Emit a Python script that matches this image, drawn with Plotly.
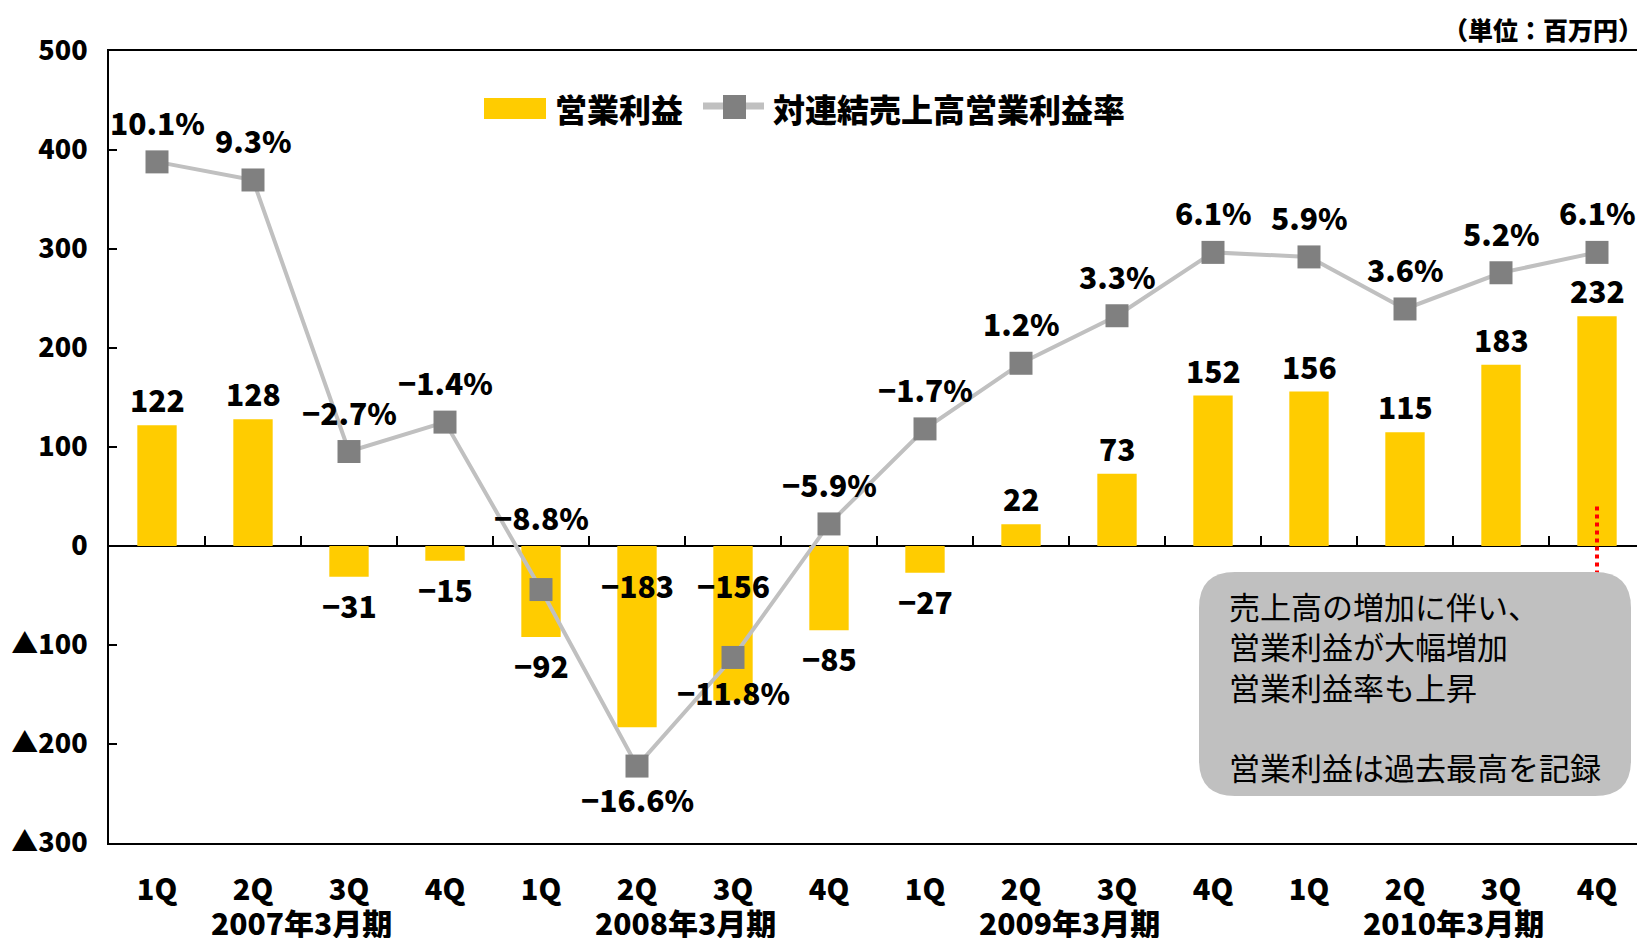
import plotly.graph_objects as go

# ---------------- data ----------------
quarters = ["1Q", "2Q", "3Q", "4Q", "1Q", "2Q", "3Q", "4Q",
            "1Q", "2Q", "3Q", "4Q", "1Q", "2Q", "3Q", "4Q"]
fiscal_years = ["2007年3月期", "2008年3月期", "2009年3月期", "2010年3月期"]
operating_profit = [122, 128, -31, -15, -92, -183, -156, -85,
                    -27, 22, 73, 152, 156, 115, 183, 232]
profit_margin = [10.1, 9.3, -2.7, -1.4, -8.8, -16.6, -11.8, -5.9,
                 -1.7, 1.2, 3.3, 6.1, 5.9, 3.6, 5.2, 6.1]
y_tick_values = [500, 400, 300, 200, 100, 0, -100, -200, -300]
y_tick_labels = ["500", "400", "300", "200", "100", "0", "▲100", "▲200", "▲300"]
bar_name = "営業利益"
line_name = "対連結売上高営業利益率"
unit_label = "（単位：百万円）"
note_lines = ["売上高の増加に伴い、", "営業利益が大幅増加", "営業利益率も上昇", "", "営業利益は過去最高を記録"]

# ---------------- layout helpers ----------------
OFF = 8  # default page body margin
W, H = 1645 - OFF, 938 - OFF
L, R, T, B = 109 - OFF, 0, 51 - OFF, 95
FONT = "Noto Sans CJK JP"
YELLOW = "#FFCC00"
LINE_GRAY = "#C0C0C0"
MARK_GRAY = "#808080"


def px_x(p):
    return (p - OFF - L) / (W - L - R)


def px_y(p):
    return (H - B - (p - OFF)) / (H - T - B)


x = list(range(len(quarters)))

fig = go.Figure()
fig.add_trace(go.Bar(
    x=x, y=operating_profit, name=bar_name, marker=dict(color=YELLOW, line=dict(width=0)),
    width=0.41, showlegend=False, hoverinfo="skip"))
fig.add_trace(go.Scatter(
    x=x, y=profit_margin, name=line_name, yaxis="y2", mode="lines+markers",
    line=dict(color=LINE_GRAY, width=4),
    marker=dict(symbol="square", size=23, color=MARK_GRAY),
    showlegend=False, hoverinfo="skip"))

annotations = []
bold = dict(family=FONT, size=30, color="black", weight=900)

# bar value labels
bar_at_base = {5, 6}
for i, v in enumerate(operating_profit):
    txt = str(v).replace("-", "−")
    if i in bar_at_base:
        annotations.append(dict(x=i, y=0, xref="x", yref="y", text=txt, showarrow=False,
                                yshift=-39, font=bold))
    else:
        annotations.append(dict(x=i, y=v, xref="x", yref="y", text=txt, showarrow=False,
                                yshift=26 if v > 0 else -28, font=bold))

# line value labels
for i, p in enumerate(profit_margin):
    txt = f"{p:.1f}%".replace("-", "−")
    if i == 4:
        annotations.append(dict(x=i, y=0, xref="x", yref="y", text=txt, showarrow=False,
                                yshift=29, font=bold))
    else:
        shift = 40
        if i == 5:
            shift = -33
        elif i == 6:
            shift = -35
        annotations.append(dict(x=i, y=p, xref="x", yref="y2", text=txt, showarrow=False,
                                yshift=shift, font=bold))

# fiscal year group labels
for g, name in enumerate(fiscal_years):
    annotations.append(dict(x=g * 4 + 1.5, y=px_y(922), xref="x", yref="paper", text=name,
                            showarrow=False, yanchor="middle",
                            font=dict(family=FONT, size=30, color="black", weight=900)))

# unit label
annotations.append(dict(x=1.0, y=px_y(29), xref="paper", yref="paper", text=unit_label,
                        showarrow=False, xanchor="right", yanchor="middle",
                        font=dict(family=FONT, size=25, color="black", weight=900)))

# legend texts
annotations.append(dict(x=px_x(553), y=px_y(108), xref="paper", yref="paper", text=bar_name,
                        showarrow=False, xanchor="left", yanchor="middle",
                        font=dict(family=FONT, size=32, color="black", weight=900)))
annotations.append(dict(x=px_x(771), y=px_y(108), xref="paper", yref="paper", text=line_name,
                        showarrow=False, xanchor="left", yanchor="middle",
                        font=dict(family=FONT, size=32, color="black", weight=900)))

# note text
annotations.append(dict(x=px_x(1227), y=px_y(686), xref="paper", yref="paper",
                        text="<br>".join(note_lines), showarrow=False, align="left",
                        xanchor="left", yanchor="middle",
                        font=dict(family=FONT, size=31, color="black")))

shapes = []
# category boundary tick marks on the zero line
for i in range(1, len(quarters)):
    shapes.append(dict(type="line", xref="x", yref="y", x0=i - 0.5, x1=i - 0.5, y0=0, y1=10,
                       line=dict(color="black", width=2)))

# red dotted connector
shapes.append(dict(type="line", xref="x", yref="y", x0=15, x1=15, y0=40, y1=-28,
                   line=dict(color="red", width=4, dash="dot")))

# rounded note box
x1, x2, y1, y2 = px_x(1199), px_x(1631), px_y(572), px_y(796)
rx, ry = 36 / (W - L - R), 36 / (H - T - B)
path = (f"M {x1 + rx},{y1} L {x2 - rx},{y1} Q {x2},{y1} {x2},{y1 - ry} "
        f"L {x2},{y2 + ry} Q {x2},{y2} {x2 - rx},{y2} "
        f"L {x1 + rx},{y2} Q {x1},{y2} {x1},{y2 + ry} "
        f"L {x1},{y1 - ry} Q {x1},{y1} {x1 + rx},{y1} Z")
shapes.append(dict(type="path", xref="paper", yref="paper", path=path,
                   fillcolor="#C0C0C0", line=dict(width=0)))

# legend symbols
shapes.append(dict(type="rect", xref="paper", yref="paper", x0=px_x(484), x1=px_x(546),
                   y0=px_y(119), y1=px_y(98), fillcolor=YELLOW, line=dict(width=0)))
shapes.append(dict(type="line", xref="paper", yref="paper", x0=px_x(703), x1=px_x(764),
                   y0=px_y(106), y1=px_y(106), line=dict(color=LINE_GRAY, width=7)))
shapes.append(dict(type="rect", xref="paper", yref="paper", x0=px_x(723), x1=px_x(746),
                   y0=px_y(119), y1=px_y(95), fillcolor=MARK_GRAY, line=dict(width=0)))

fig.update_layout(
    width=W, height=H,
    margin=dict(l=L, r=R, t=T, b=B, autoexpand=False),
    plot_bgcolor="white", paper_bgcolor="white",
    xaxis=dict(range=[-0.5, 15.5], tickvals=x, ticktext=quarters, showgrid=False,
               zeroline=False, showline=True, linecolor="black", linewidth=2, mirror=True,
               ticks="", ticklabelstandoff=20,
               tickfont=dict(family=FONT, size=29, color="black", weight=900)),
    yaxis=dict(range=[-300, 500], tickvals=y_tick_values, ticktext=y_tick_labels,
               showgrid=False, zeroline=True, zerolinecolor="black", zerolinewidth=2,
               showline=True, linecolor="black", linewidth=2,
               ticks="inside", ticklen=8, tickcolor="black", tickwidth=2,
               ticklabelstandoff=14,
               tickfont=dict(family=FONT, size=27, color="black", weight=900)),
    yaxis2=dict(range=[-20, 15], overlaying="y", side="right", visible=False),
    annotations=annotations,
    shapes=shapes,
    showlegend=False,
)

fig.write_html("out.html")
